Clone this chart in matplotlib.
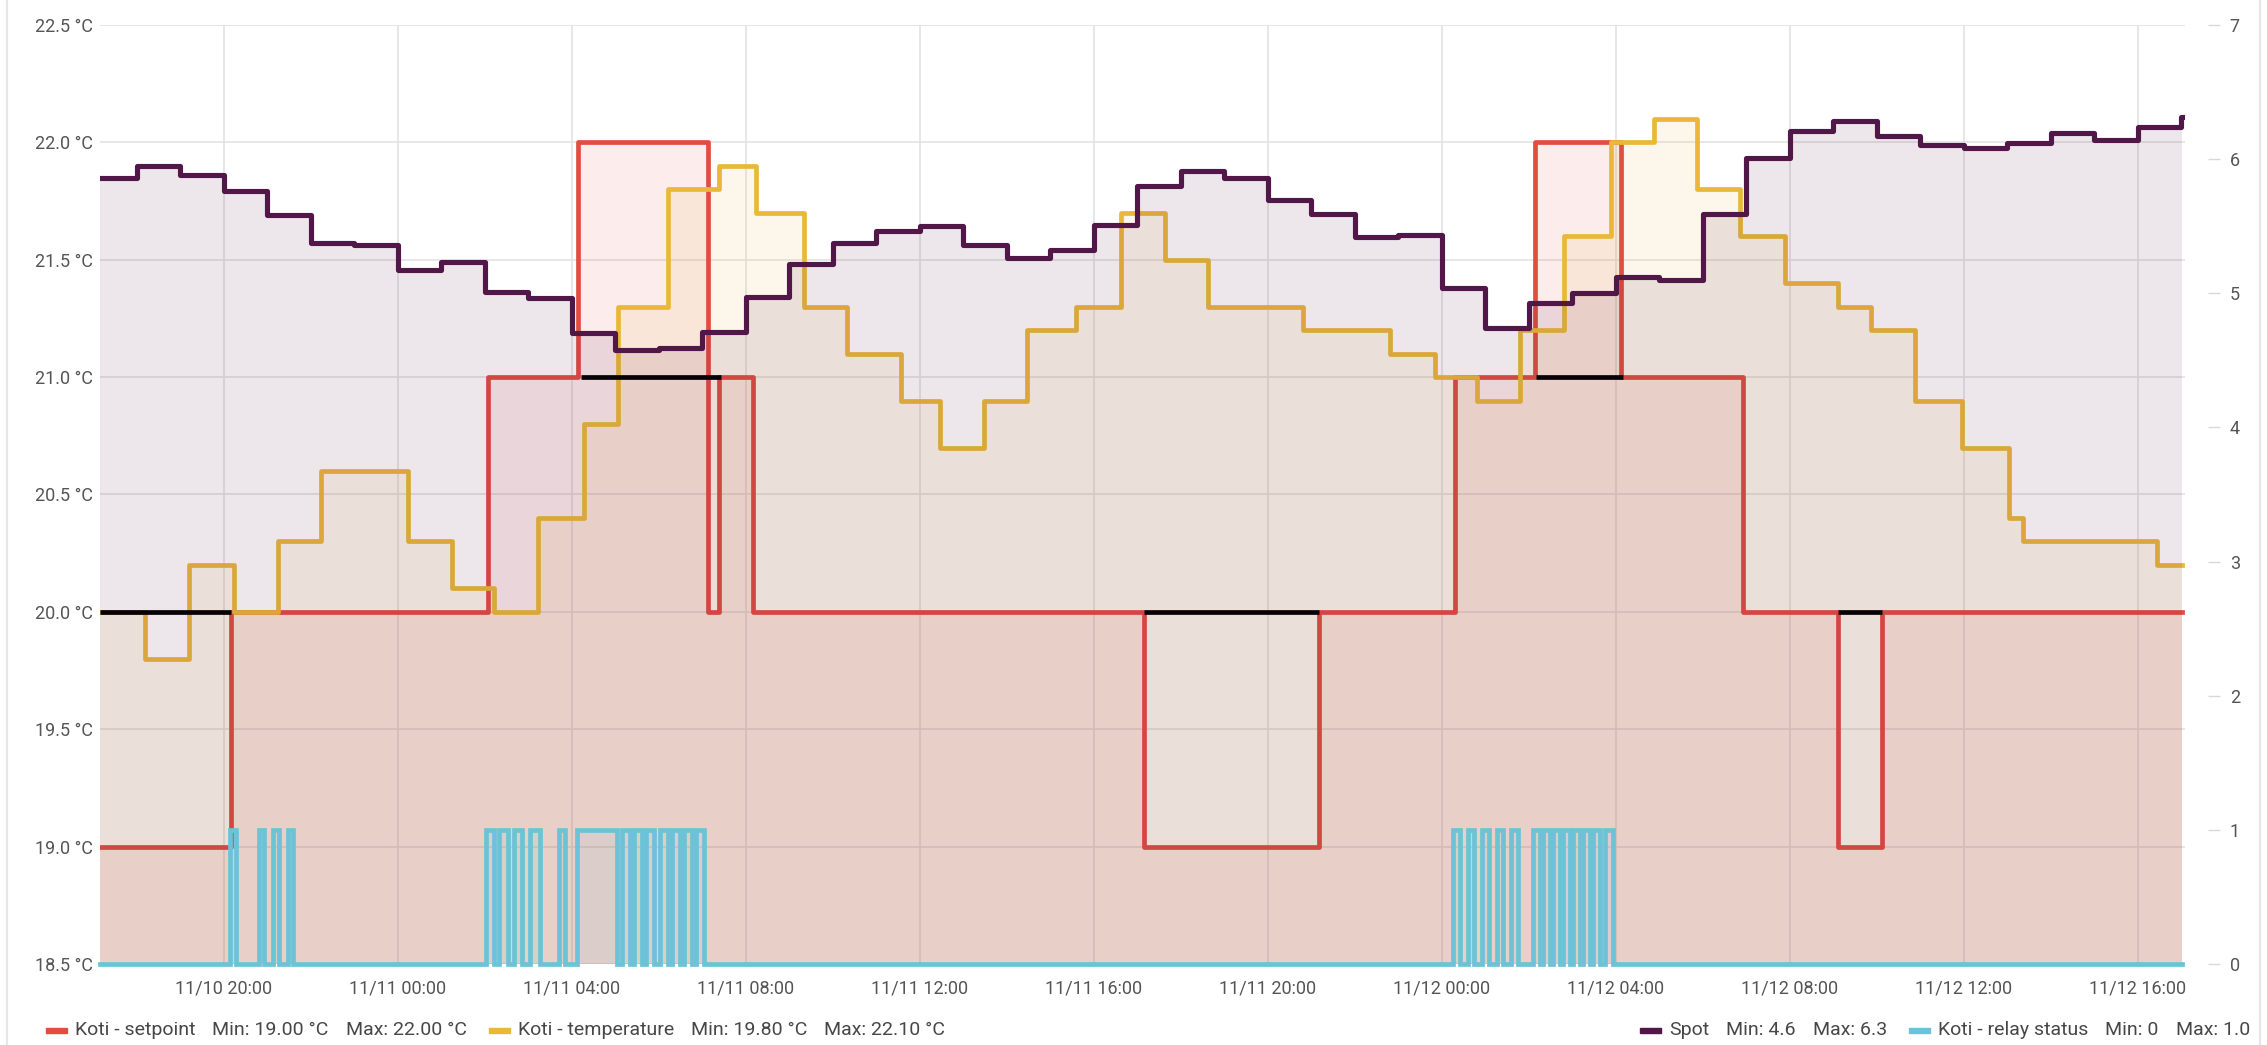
import datetime as dt

import matplotlib
matplotlib.use("Agg")
import matplotlib.pyplot as plt
import matplotlib.dates as mdates
from matplotlib.font_manager import FontProperties
from matplotlib.lines import Line2D
from matplotlib.patches import Rectangle

plt.rcParams['font.family'] = ['Roboto', 'DejaVu Sans']

W, H = 2267, 1045

# ---- data (times are "month/day hour:minute") ----
view_start = "11/10 17:09"
view_end = "11/12 17:05"
data_end = "11/12 17:01"

setpoint_times = ["11/10 17:09", "11/10 20:10", "11/11 02:04", "11/11 04:08",
                  "11/11 07:08", "11/11 07:23", "11/11 08:10", "11/11 17:09",
                  "11/11 21:10", "11/12 00:18", "11/12 02:08", "11/12 04:07",
                  "11/12 06:56", "11/12 09:06", "11/12 10:07"]
setpoint_vals = [19.0, 20.0, 21.0, 22.0, 20.0, 21.0, 20.0, 19.0,
                 20.0, 21.0, 22.0, 21.0, 20.0, 19.0, 20.0]

temp_times = ["11/10 17:09", "11/10 18:11", "11/10 19:12", "11/10 20:14",
              "11/10 21:14", "11/10 22:14", "11/11 00:14", "11/11 01:15",
              "11/11 02:12", "11/11 03:13", "11/11 04:17", "11/11 05:03",
              "11/11 06:13", "11/11 07:23", "11/11 08:14", "11/11 09:20",
              "11/11 10:19", "11/11 11:34", "11/11 12:28", "11/11 13:29",
              "11/11 14:28", "11/11 15:35", "11/11 16:38", "11/11 17:38",
              "11/11 18:37", "11/11 20:49", "11/11 22:48", "11/11 23:50",
              "11/12 00:49", "11/12 01:48", "11/12 02:49", "11/12 03:53",
              "11/12 04:53", "11/12 05:52", "11/12 06:51", "11/12 07:53",
              "11/12 09:06", "11/12 09:52", "11/12 10:52", "11/12 11:57",
              "11/12 13:02", "11/12 13:22", "11/12 16:26"]
temp_vals = [20.0, 19.8, 20.2, 20.0, 20.3, 20.6, 20.3, 20.1,
             20.0, 20.4, 20.8, 21.3, 21.8, 21.9, 21.7, 21.3,
             21.1, 20.9, 20.7, 20.9, 21.2, 21.3, 21.7, 21.5,
             21.3, 21.2, 21.1, 21.0, 20.9, 21.2, 21.6, 22.0,
             22.1, 21.8, 21.6, 21.4, 21.3, 21.2, 20.9, 20.7,
             20.4, 20.3, 20.2]

# hourly spot price, first hour 11/10 17:00
spot_start = "11/10 17:00"
spot_vals = [5.86, 5.95, 5.88, 5.76, 5.58, 5.37, 5.36,
             5.17, 5.23, 5.01, 4.96, 4.70, 4.58, 4.59, 4.71, 4.97, 5.22, 5.37,
             5.46, 5.50, 5.36, 5.26, 5.32, 5.51, 5.80, 5.91, 5.86, 5.69, 5.59,
             5.42, 5.43,
             5.04, 4.74, 4.93, 5.00, 5.12, 5.10, 5.59, 6.01, 6.21, 6.28, 6.17,
             6.10, 6.08, 6.12, 6.19, 6.14, 6.24, 6.31]

# relay on/off periods
relay_on = ["11/10 20:08", "11/10 20:48", "11/10 21:08", "11/10 21:28",
            "11/11 02:01", "11/11 02:20", "11/11 02:40", "11/11 03:02",
            "11/11 03:42", "11/11 04:07", "11/11 05:09", "11/11 05:26",
            "11/11 05:42", "11/11 06:01", "11/11 06:18", "11/11 06:34",
            "11/11 06:51",
            "11/12 00:15", "11/12 00:36", "11/12 00:55", "11/12 01:16",
            "11/12 01:35", "11/12 02:05", "11/12 02:19", "11/12 02:33",
            "11/12 02:47", "11/12 03:01", "11/12 03:14", "11/12 03:28",
            "11/12 03:45"]
relay_off = ["11/10 20:17", "11/10 20:55", "11/10 21:16", "11/10 21:35",
             "11/11 02:13", "11/11 02:32", "11/11 02:51", "11/11 03:16",
             "11/11 03:50", "11/11 05:02", "11/11 05:20", "11/11 05:37",
             "11/11 05:53", "11/11 06:13", "11/11 06:29", "11/11 06:46",
             "11/11 07:02",
             "11/12 00:25", "11/12 00:44", "11/12 01:05", "11/12 01:24",
             "11/12 01:45", "11/12 02:15", "11/12 02:29", "11/12 02:43",
             "11/12 02:56", "11/12 03:10", "11/12 03:24", "11/12 03:38",
             "11/12 03:56"]

# black "normal setpoint" segments shown while an override is active
base_start = ["11/10 17:09", "11/11 04:12", "11/11 17:09", "11/12 02:10", "11/12 09:06"]
base_end = ["11/10 20:10", "11/11 07:26", "11/11 21:10", "11/12 04:10", "11/12 10:07"]
base_vals = [20.0, 21.0, 20.0, 21.0, 20.0]

left_ticks = [18.5, 19.0, 19.5, 20.0, 20.5, 21.0, 21.5, 22.0, 22.5]
right_ticks = [0, 1, 2, 3, 4, 5, 6, 7]

RED = "#e24d42"
YELLOW = "#eab839"
PURPLE = "#511749"
CYAN = "#6cc3d8"
TEXT = "#555555"
GRID = "#e3e3e3"
LW = 3.4

left_legend = [
    (RED, ["Koti - setpoint", "Min: 19.00 °C", "Max: 22.00 °C"]),
    (YELLOW, ["Koti - temperature", "Min: 19.80 °C", "Max: 22.10 °C"]),
]
right_legend = [
    (PURPLE, ["Spot", "Min: 4.6", "Max: 6.3"]),
    (CYAN, ["Koti - relay status", "Min: 0", "Max: 1.0"]),
]


def t(s):
    return mdates.date2num(dt.datetime.strptime("2022/" + s, "%Y/%m/%d %H:%M"))


def steps(times, vals, end):
    x = [t(s) for s in times] + [t(end)]
    y = list(vals) + [vals[-1]]
    return x, y


fig = plt.figure(figsize=(W / 100, H / 100), dpi=100)
ax = fig.add_axes([100 / W, 1 - 964.4 / H, (2185 - 100) / W, (964.4 - 24.6) / H])
ax2 = ax.twinx()

# setpoint
sx, sy = steps(setpoint_times, setpoint_vals, data_end)
ax.fill_between(sx, sy, 18.5, step="post", color=RED, alpha=0.1, lw=0)
ax.plot(sx, sy, drawstyle="steps-post", color=RED, lw=LW, zorder=3)

# temperature
tx, ty = steps(temp_times, temp_vals, data_end)
ax.fill_between(tx, ty, 18.5, step="post", color=YELLOW, alpha=0.1, lw=0)
ax.plot(tx, ty, drawstyle="steps-post", color=YELLOW, lw=LW, zorder=3)

# black baseline segments
for a, b, v in zip(base_start, base_end, base_vals):
    ax.plot([t(a), t(b)], [v, v], color="black", lw=LW, zorder=4,
            solid_capstyle="butt")

# spot price
spot_x = [t(spot_start) + i / 24 for i in range(len(spot_vals))] + [t(data_end)]
spot_y = spot_vals + [spot_vals[-1]]
ax2.fill_between(spot_x, spot_y, 0, step="post", color=PURPLE, alpha=0.1, lw=0)
ax2.plot(spot_x, spot_y, drawstyle="steps-post", color=PURPLE, lw=3.7, zorder=3)

# relay status
rx, ry = [t(view_start)], [0]
for on, off in zip(relay_on, relay_off):
    rx += [t(on), t(off)]
    ry += [1, 0]
rx.append(t(data_end))
ry.append(0)
ax2.fill_between(rx, ry, 0, step="post", color=CYAN, alpha=0.1, lw=0)
ax2.plot(rx, ry, drawstyle="steps-post", color=CYAN, lw=LW, zorder=4,
         clip_on=False, solid_joinstyle="miter")

# axes setup
ax.set_xlim(t(view_start), t(view_end))
ax.set_ylim(18.5, 22.5)
ax2.set_ylim(0, 7)

ax.set_yticks(left_ticks)
ax.set_yticklabels(["%.1f °C" % v for v in left_ticks])
ax2.set_yticks(right_ticks)
ax2.set_yticklabels([str(v) for v in right_ticks])

ax.xaxis.set_major_locator(mdates.HourLocator(byhour=[0, 4, 8, 12, 16, 20]))
ax.xaxis.set_major_formatter(mdates.DateFormatter("%m/%d %H:%M"))

ax.grid(True, color=GRID, lw=1.2, zorder=0)
ax.set_axisbelow(True)

for a in (ax, ax2):
    for sp in a.spines.values():
        sp.set_visible(False)

ax.tick_params(axis="y", length=0, pad=5, labelsize=13, labelcolor=TEXT)
ax.tick_params(axis="x", length=0, pad=11, labelsize=13, labelcolor=TEXT)
ax2.spines["right"].set_position(("outward", 16.6))
ax2.tick_params(axis="y", length=8.6, width=1, color="#d8d8d8", pad=7,
                labelsize=13, labelcolor=TEXT)

# panel borders
fig.add_artist(Line2D([7 / W, 7 / W], [0, 1], color="#e6e6e6", lw=1.5))
fig.add_artist(Line2D([2260 / W, 2260 / W], [0, 1], color="#e6e6e6", lw=1.5))

# legend, laid out like the grafana legend: swatch, name, then the values
renderer = fig.canvas.get_renderer()
prop = FontProperties(family=["Roboto", "DejaVu Sans"], size=14)
leg_y = 1 - 1030 / H
SW_TO_TEXT = 29
PART_GAP = 17
ITEM_GAP = 22


def text_w(s):
    return renderer.get_text_width_height_descent(s, prop, ismath=False)[0]


def row_width(items):
    total = 0
    for _, parts in items:
        total += SW_TO_TEXT + sum(text_w(p) for p in parts) + PART_GAP * (len(parts) - 1)
    return total + ITEM_GAP * (len(items) - 1)


def draw_row(x, items):
    for col, parts in items:
        fig.add_artist(Rectangle((x / W, leg_y - 2.5 / H), 21 / W, 5 / H,
                                 color=col, transform=fig.transFigure))
        x += SW_TO_TEXT
        for p in parts:
            fig.text(x / W, leg_y, p, ha="left", va="center",
                     fontproperties=prop, color="#474747")
            x += text_w(p) + PART_GAP
        x += ITEM_GAP - PART_GAP


draw_row(46, left_legend)
draw_row(2250 - row_width(right_legend), right_legend)

fig.savefig("out.png", dpi=100)
